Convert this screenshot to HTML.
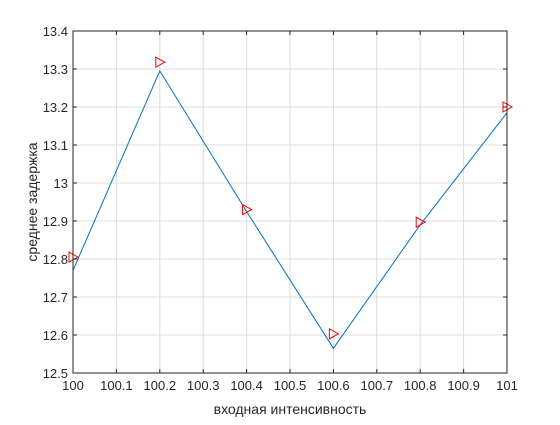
<!DOCTYPE html>
<html><head><meta charset="utf-8"><style>
body{margin:0;background:#fff;}
text{font-family:"Liberation Sans",sans-serif;font-size:13px;fill:#262626;}
</style></head><body>
<svg id="chart" width="560" height="420" xmlns="http://www.w3.org/2000/svg">
<rect width="560" height="420" fill="#fff"/>
<rect x="73" y="31" width="434" height="342" fill="#fff"/>
<g id="grid"></g><g id="series"></g><g id="axes"></g>
</svg>
<script>
const xs=[100,100.2,100.4,100.6,100.8,101];
const lineVals=[12.77,13.295,12.925,12.565,12.89,13.185];
const markerVals=[12.805,13.318,12.93,12.603,12.897,13.2];
const xTicks=[100,100.1,100.2,100.3,100.4,100.5,100.6,100.7,100.8,100.9,101];
const yTicks=[12.5,12.6,12.7,12.8,12.9,13,13.1,13.2,13.3,13.4];
const L=73,R=507,T=31,B=373;
const X=v=>L+(v-100)/1*(R-L);
const Y=v=>B-(v-12.5)/0.9*(B-T);
const NS='http://www.w3.org/2000/svg';
function mk(tag,attrs,parent){const e=document.createElementNS(NS,tag);for(const k in attrs)e.setAttribute(k,attrs[k]);parent.appendChild(e);return e;}
const grid=document.getElementById('grid'),ser=document.getElementById('series'),ax=document.getElementById('axes');
xTicks.forEach(t=>{const x=X(t);
 const g=mk('line',{x1:x,x2:x,y1:T,y2:B,stroke:'#dcdcdc','stroke-width':1},grid);
 
 mk('line',{x1:x,x2:x,y1:B,y2:B-4,stroke:'#262626'},ax);mk('line',{x1:x,x2:x,y1:T,y2:T+4,stroke:'#262626'},ax);
 const tx=mk('text',{x:x,y:B+17,'text-anchor':'middle'},ax);tx.textContent=String(t);
 });
yTicks.forEach(t=>{const y=Y(t);
 const g=mk('line',{x1:L,x2:R,y1:y,y2:y,stroke:'#dcdcdc','stroke-width':1},grid);
 
 mk('line',{x1:L,x2:L+4,y1:y,y2:y,stroke:'#262626'},ax);mk('line',{x1:R,x2:R-4,y1:y,y2:y,stroke:'#262626'},ax);
 const tx=mk('text',{x:L-5,y:y+5,'text-anchor':'end'},ax);tx.textContent=String(t);
 });
const pl=mk('polyline',{points:xs.map((v,i)=>X(v)+','+Y(lineVals[i])).join(' '),fill:'none',stroke:'#0072bd','stroke-width':1},ser);

xs.forEach((v,i)=>{const x=X(v),y=Y(markerVals[i]);
 const m=mk('polygon',{points:`${x-4},${y-5} ${x+5},${y} ${x-4},${y+5}`,fill:'none',stroke:'#ff0000','stroke-width':1},ser);
 });
const box=mk('rect',{x:L,y:T,width:R-L,height:B-T,fill:'none',stroke:'#262626','stroke-width':1},ax);

const xl=mk('text',{x:(L+R)/2,y:414,'text-anchor':'middle',style:'font-size:14px'},ax);xl.textContent='входная интенсивность';

const yl=mk('text',{x:0,y:0,'text-anchor':'middle',transform:`translate(37,${(T+B)/2}) rotate(-90)`,style:'font-size:14px'},ax);yl.textContent='среднее задержка';

</script>
</body></html>
